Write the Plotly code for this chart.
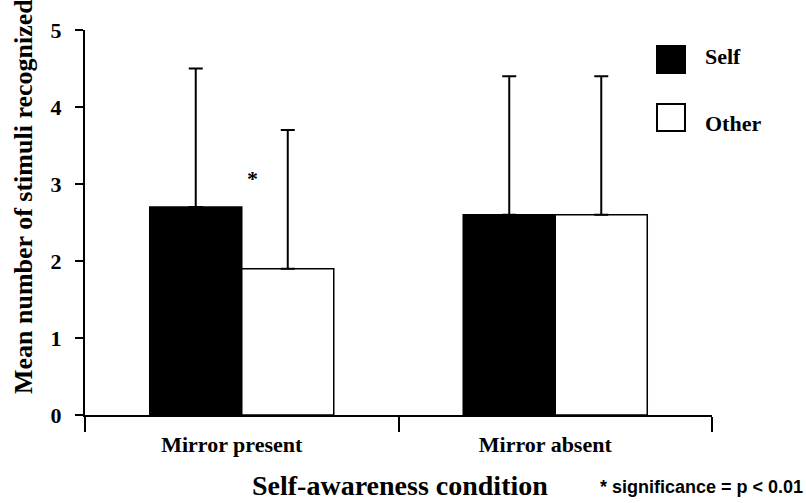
import plotly.graph_objects as go

# ---- data ----
conditions = ["Mirror present", "Mirror absent"]
self_means = [2.7, 2.6]
self_sd = [1.8, 1.8]
other_means = [1.9, 2.6]
other_sd = [1.8, 1.8]
y_ticks = [0, 1, 2, 3, 4, 5]

W, H = 806, 503
L, R, T, B = 85, 94, 30, 88
pw, ph = W - L - R, H - T - B

def px_x(x):
    return (x - L) / pw

def px_y(y):
    return (H - B - y) / ph

SERIF = "Liberation Serif, Times New Roman, serif"

fig = go.Figure()
fig.add_trace(go.Bar(
    x=conditions, y=self_means, name="Self",
    marker=dict(color="black", line=dict(color="black", width=1.5)),
    error_y=dict(type="data", array=self_sd, arrayminus=[0, 0], symmetric=False,
                 color="black", thickness=2, width=7),
))
fig.add_trace(go.Bar(
    x=conditions, y=other_means, name="Other",
    marker=dict(color="white", line=dict(color="black", width=1.5)),
    error_y=dict(type="data", array=other_sd, arrayminus=[0, 0], symmetric=False,
                 color="black", thickness=2, width=7),
))

fig.update_layout(
    width=W, height=H,
    margin=dict(l=L, r=R, t=T, b=B),
    barmode="group", bargap=0.413, bargroupgap=0,
    plot_bgcolor="white", paper_bgcolor="white",
    showlegend=False,
    font=dict(family=SERIF, color="black"),
)
fig.update_xaxes(
    type="category", range=[-0.5, 1.5],
    showline=True, linecolor="black", linewidth=2,
    ticks="outside", tickson="boundaries", ticklen=15, tickwidth=2, tickcolor="black",
    tickfont=dict(family=SERIF, size=22, color="black", weight="bold"),
    ticklabelshift=-10, ticklabelstandoff=9,
    showgrid=False, zeroline=False,
)
fig.update_yaxes(
    range=[0, 5], tickvals=y_ticks,
    showline=True, linecolor="black", linewidth=2,
    ticks="outside", ticklen=8, tickwidth=2, tickcolor="black",
    tickfont=dict(family=SERIF, size=22, color="black", weight="bold"),
    ticklabelstandoff=9,
    showgrid=False, zeroline=False,
)

shapes = []
for (y0, y1, fill) in [(46, 73, "black"), (104, 131, "white")]:
    shapes.append(dict(type="rect", xref="paper", yref="paper",
                       x0=px_x(657), x1=px_x(685), y0=px_y(y1), y1=px_y(y0),
                       fillcolor=fill, line=dict(color="black", width=2)))
fig.update_layout(shapes=shapes)

ann = [
    dict(text="<b>Self</b>", x=px_x(703), y=px_y(56), xref="paper", yref="paper",
         xanchor="left", yanchor="middle", showarrow=False,
         font=dict(family=SERIF, size=22, color="black")),
    dict(text="<b>Other</b>", x=px_x(703), y=px_y(124), xref="paper", yref="paper",
         xanchor="left", yanchor="middle", showarrow=False,
         font=dict(family=SERIF, size=22, color="black")),
    dict(text="<b>Mean number of stimuli recognized</b>", x=px_x(23), y=px_y(197),
         xref="paper", yref="paper", xanchor="center", yanchor="middle",
         textangle=-90, showarrow=False,
         font=dict(family=SERIF, size=26, color="black")),
    dict(text="<b>Self-awareness condition</b>", x=px_x(400), y=px_y(485),
         xref="paper", yref="paper", xanchor="center", yanchor="middle",
         showarrow=False, font=dict(family=SERIF, size=28, color="black")),
    dict(text="<b>* significance = p < 0.01</b>", x=px_x(805), y=px_y(487),
         xref="paper", yref="paper", xanchor="right", yanchor="middle",
         showarrow=False,
         font=dict(family="Liberation Sans, Arial, sans-serif", size=18, color="black")),
    dict(text="<b>*</b>", x=0.033, y=3.07, xref="x", yref="y",
         xanchor="center", yanchor="middle", showarrow=False,
         font=dict(family=SERIF, size=22, color="black")),
]
fig.update_layout(annotations=ann)

fig.write_html("out.html", config={"displayModeBar": False},
               post_script="document.body.style.margin='0';document.body.style.overflow='hidden';")
